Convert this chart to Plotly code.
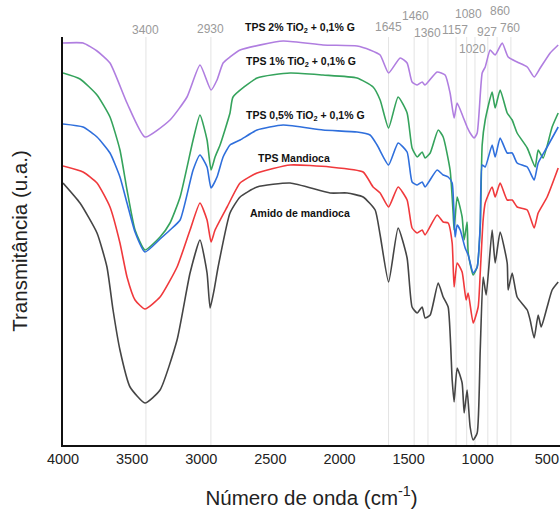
import plotly.graph_objects as go

# ---- data (wavenumber cm-1, transmittance in arbitrary units) ----
wn_tps2 = [4000, 3855, 3754, 3660, 3537, 3407, 3226, 3103, 3009, 2929, 2886, 2842, 2792, 2719, 2408, 2119, 1873, 1779, 1706, 1645, 1561, 1511, 1475, 1438, 1402, 1381, 1294, 1236, 1200, 1171, 1149, 1106, 1077, 1055, 1026, 1004, 968, 946, 910, 874, 823, 780, 715, 642, 592, 548, 476, 418]
t_tps2 = [402, 402, 394, 382, 342, 308, 325, 348, 380, 355, 365, 382, 388, 395, 404, 400, 399, 395, 390, 372, 387, 382, 363, 360, 363, 360, 373, 370, 352, 327, 342, 328, 318, 312, 307, 312, 372, 378, 395, 390, 402, 388, 383, 378, 368, 377, 392, 400]

wn_tps1 = [4000, 3877, 3754, 3660, 3588, 3537, 3479, 3407, 3298, 3226, 3153, 3059, 3009, 2958, 2929, 2900, 2864, 2792, 2770, 2596, 2357, 2119, 1873, 1757, 1706, 1645, 1576, 1511, 1475, 1438, 1402, 1381, 1344, 1286, 1250, 1200, 1178, 1171, 1149, 1113, 1098, 1077, 1069, 1033, 1004, 982, 968, 946, 896, 874, 838, 787, 751, 715, 642, 585, 563, 527, 462, 418]
t_tps1 = [372, 366, 350, 328, 295, 255, 215, 195, 208, 222, 248, 305, 330, 305, 275, 288, 300, 332, 348, 367, 372, 370, 367, 358, 345, 317, 348, 332, 297, 288, 293, 287, 292, 315, 308, 275, 232, 215, 248, 228, 205, 223, 192, 170, 178, 218, 300, 325, 353, 337, 355, 332, 325, 312, 297, 278, 295, 287, 318, 332]

wn_tps05 = [4000, 3855, 3754, 3660, 3588, 3537, 3479, 3407, 3298, 3226, 3153, 3059, 3009, 2958, 2929, 2886, 2842, 2792, 2719, 2596, 2408, 2119, 1873, 1779, 1728, 1645, 1576, 1511, 1475, 1438, 1402, 1381, 1294, 1250, 1214, 1185, 1164, 1149, 1127, 1091, 1069, 1033, 1004, 982, 968, 946, 896, 874, 838, 787, 751, 715, 642, 592, 563, 498, 418]
t_tps05 = [321, 318, 308, 292, 268, 242, 213, 193, 206, 215, 225, 275, 290, 278, 257, 268, 288, 300, 305, 315, 320, 315, 313, 310, 300, 280, 302, 293, 263, 260, 263, 258, 275, 270, 268, 262, 208, 220, 215, 197, 190, 172, 178, 220, 280, 278, 300, 288, 307, 292, 292, 282, 278, 265, 282, 298, 318]

wn_tps = [4000, 3855, 3754, 3660, 3588, 3537, 3479, 3407, 3298, 3175, 3081, 3009, 2958, 2929, 2900, 2813, 2719, 2596, 2357, 2068, 1829, 1757, 1706, 1645, 1576, 1511, 1475, 1438, 1402, 1381, 1294, 1250, 1214, 1185, 1171, 1149, 1113, 1084, 1069, 1033, 997, 982, 961, 946, 896, 874, 838, 787, 751, 715, 642, 592, 563, 498, 418]
t_tps = [279, 273, 262, 238, 202, 168, 145, 136, 148, 178, 215, 242, 225, 203, 215, 238, 262, 272, 280, 278, 273, 258, 252, 238, 258, 245, 217, 212, 215, 210, 230, 223, 222, 202, 158, 182, 173, 145, 152, 122, 138, 172, 225, 242, 258, 248, 262, 245, 245, 238, 235, 217, 232, 248, 277]

wn_amido = [4000, 3877, 3754, 3682, 3638, 3588, 3515, 3407, 3298, 3175, 3081, 3009, 2958, 2936, 2907, 2878, 2792, 2719, 2596, 2357, 2068, 1945, 1829, 1742, 1706, 1645, 1576, 1511, 1475, 1438, 1402, 1381, 1344, 1286, 1250, 1214, 1185, 1171, 1149, 1113, 1098, 1077, 1055, 1033, 1004, 982, 961, 939, 896, 874, 838, 787, 780, 751, 715, 642, 621, 592, 563, 541, 498, 462, 418]
t_amido = [262, 242, 212, 178, 135, 95, 58, 42, 55, 105, 172, 205, 172, 137, 155, 178, 232, 248, 258, 262, 252, 252, 248, 235, 210, 163, 217, 187, 138, 132, 138, 127, 130, 162, 148, 138, 65, 43, 77, 62, 32, 55, 18, 5, 12, 95, 168, 150, 215, 182, 213, 182, 155, 172, 148, 135, 125, 107, 130, 118, 138, 155, 163]

series_names = ["TPS 2% TiO<sub>2</sub> + 0,1% G", "TPS 1% TiO<sub>2</sub> + 0,1% G",
                "TPS 0,5% TiO<sub>2</sub> + 0,1% G", "TPS Mandioca", "Amido de mandioca"]
series_colors = ["#b07ee0", "#35a35c", "#2f6fdc", "#f0393c", "#454545"]
series_x = [wn_tps2, wn_tps1, wn_tps05, wn_tps, wn_amido]
series_y = [t_tps2, t_tps1, t_tps05, t_tps, t_amido]
label_x = [2285, 2278, 2249, 2328, 2285]
label_y = [1.022, 0.939, 0.806, 0.703, 0.569]

peak_lines = [3400, 2930, 1645, 1460, 1360, 1157, 1080, 1020, 927, 860, 760]
peak_label_x = [3400, 2930, 1648, 1453, 1366, 1164, 1069, 1040, 932, 838, 765]
peak_label_y = [1.018, 1.020, 1.025, 1.052, 1.010, 1.017, 1.057, 0.971, 1.012, 1.064, 1.022]

xticks = [4000, 3500, 3000, 2500, 2000, 1500, 1000, 500]

fig = go.Figure()
for xs, ys, nm, col in zip(series_x, series_y, series_names, series_colors):
    fig.add_trace(go.Scatter(x=xs, y=ys, mode="lines", name=nm,
                             line=dict(color=col, width=1.6, shape="spline", smoothing=0.5),
                             hoverinfo="skip"))

for v in peak_lines:
    fig.add_shape(type="line", xref="x", yref="paper", x0=v, x1=v, y0=0, y1=1,
                  line=dict(color="#e3e3e3", width=1), layer="below")

for v, lx, ly in zip(peak_lines, peak_label_x, peak_label_y):
    fig.add_annotation(x=lx, y=ly, xref="x", yref="paper", text=str(v), showarrow=False,
                       font=dict(family="Liberation Sans, Arial", size=12, color="#9a9a9a"),
                       xanchor="center", yanchor="middle")

for nm, lx, ly in zip(series_names, label_x, label_y):
    fig.add_annotation(x=lx, y=ly, xref="x", yref="paper", text="<b>" + nm + "</b>",
                       showarrow=False,
                       font=dict(family="Liberation Sans, Arial", size=10.5, color="#111111"),
                       xanchor="center", yanchor="middle")

fig.update_layout(
    width=560, height=509,
    margin=dict(l=63, r=0, t=37, b=64),
    paper_bgcolor="white", plot_bgcolor="white",
    showlegend=False,
    font=dict(family="Liberation Sans, Arial", color="#222222"),
)
fig.update_xaxes(range=[4000, 405], tickvals=xticks, ticktext=[str(t) for t in xticks],
                 showgrid=False, zeroline=False, showline=True, linecolor="#111111", linewidth=2,
                 ticks="", tickfont=dict(size=14.5, color="#222222"),
                 title=dict(text="Número de onda (cm<sup>-1</sup>)", font=dict(size=20.5, color="#222222"),
                            standoff=25))
fig.update_yaxes(range=[0, 408], showticklabels=False, showgrid=False, zeroline=False,
                 showline=True, linecolor="#111111", linewidth=2, ticks="",
                 title=dict(text="Transmitância (u.a.)", font=dict(size=20.5, color="#222222"),
                            standoff=28))

fig.write_html("out.html", config={"displayModeBar": False},
               post_script="document.body.style.margin='0';document.body.style.overflow='hidden';")
